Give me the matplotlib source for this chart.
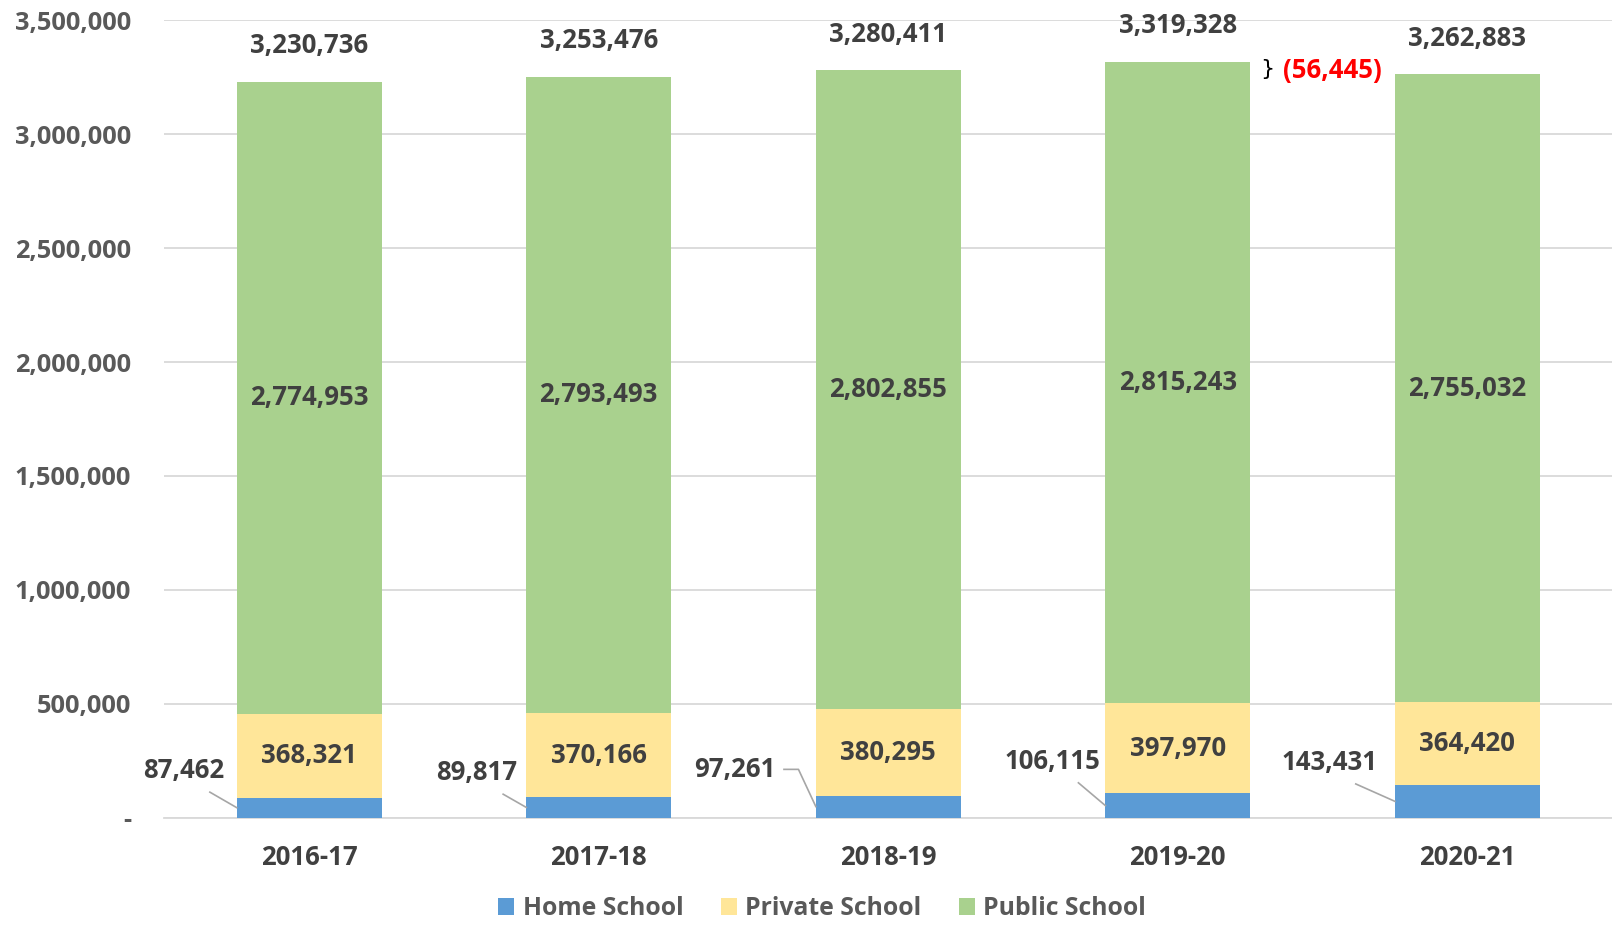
import numpy as np
import matplotlib.pyplot as plt
from matplotlib.ticker import FuncFormatter

# Data
years = ["2016-17", "2017-18", "2018-19", "2019-20", "2020-21"]
home = [87462, 89817, 97261, 106115, 143431]
private = [368321, 370166, 380295, 397970, 364420]
public = [2774953, 2793493, 2802855, 2815243, 2755032]

c_home = "#5b9bd5"
c_private = "#ffe699"
c_public = "#a9d18e"
c_text = "#404040"
c_tick = "#595959"

plt.rcParams["font.family"] = ["Open Sans", "DejaVu Sans"]
plt.rcParams["font.weight"] = "bold"

home = np.array(home)
private = np.array(private)
public = np.array(public)
total = home + private + public
x = np.arange(len(years))

fig = plt.figure(figsize=(16.12, 9.26), dpi=100)
ax = fig.add_axes([0.102, 0.117, 0.898, 0.861])

w = 0.5
ax.bar(x, home, w, color=c_home, label="Home School", zorder=3)
ax.bar(x, private, w, bottom=home, color=c_private, label="Private School", zorder=3)
ax.bar(x, public, w, bottom=home + private, color=c_public, label="Public School", zorder=3)

ax.set_xlim(-0.5, 4.5)
ax.set_ylim(0, 3500000)
ax.set_yticks(np.arange(0, 3500001, 500000))
ax.yaxis.set_major_formatter(FuncFormatter(lambda v, p: "-" if v == 0 else f"{int(v):,}"))
ax.grid(axis="y", color="#d9d9d9", linewidth=1.3, zorder=0)
for s in ["top", "right", "left"]:
    ax.spines[s].set_visible(False)
ax.spines["bottom"].set_color("#d9d9d9")
ax.spines["bottom"].set_linewidth(1.3)
ax.tick_params(length=0, labelcolor=c_tick)
ax.tick_params(axis="y", labelsize=18.3, pad=24)
ax.tick_params(axis="x", labelsize=18.5, pad=19, labelcolor=c_text)
ax.set_xticks(x)
ax.set_xticklabels(years, fontweight="bold")
for lab in ax.get_yticklabels():
    lab.set_fontweight("bold")

fs = 18.5
# labels inside bars
for i in x:
    ax.text(i, home[i] + private[i] / 2, f"{private[i]:,}", ha="center", va="center",
            fontsize=fs, color=c_text, fontweight="bold", zorder=4)
    ax.text(i, home[i] + private[i] + public[i] / 2, f"{public[i]:,}", ha="center", va="center",
            fontsize=fs, color=c_text, fontweight="bold", zorder=4)
    ax.annotate(f"{total[i]:,}", (i, total[i]), xytext=(0, 26), textcoords="offset points",
                ha="center", va="center", fontsize=fs, color=c_text, fontweight="bold")

# home school labels with leader lines
lab_pos = [(-0.433, 207000), (0.58, 198000), (1.47, 212000), (2.567, 248000), (3.525, 243000)]
for i in x:
    tx, ty = lab_pos[i]
    ax.text(tx, ty, f"{home[i]:,}", ha="center", va="center", fontsize=fs,
            color=c_text, fontweight="bold", zorder=4)
    if i == 2:
        ax.plot([tx + 0.17, tx + 0.22, i - w / 2], [ty, ty, home[i] / 2],
                color="#a6a6a6", lw=1.2, zorder=4)
    else:
        ax.plot([tx + 0.09, i - w / 2], [ty - 95000, home[i] / 2],
                color="#a6a6a6", lw=1.2, zorder=4)

# change between last two years
diff = total[3] - total[4]
ax.text(3.31, (total[3] + total[4]) / 2 - 5000, "}", ha="center", va="center",
        fontsize=16, color="black", fontweight="normal", family="DejaVu Sans")
ax.text(3.535, (total[3] + total[4]) / 2 - 10000, f"({diff:,})", ha="center", va="center",
        fontsize=fs, color="#ff0000", fontweight="bold")

leg = fig.legend(loc="lower center", bbox_to_anchor=(0.51, -0.019), ncol=3, frameon=False,
                 fontsize=17.8, handlelength=0.65, handleheight=0.65, columnspacing=1.5,
                 handletextpad=0.35)
for t in leg.get_texts():
    t.set_color(c_tick)
    t.set_fontweight("bold")

plt.savefig("out.png", dpi=100)
